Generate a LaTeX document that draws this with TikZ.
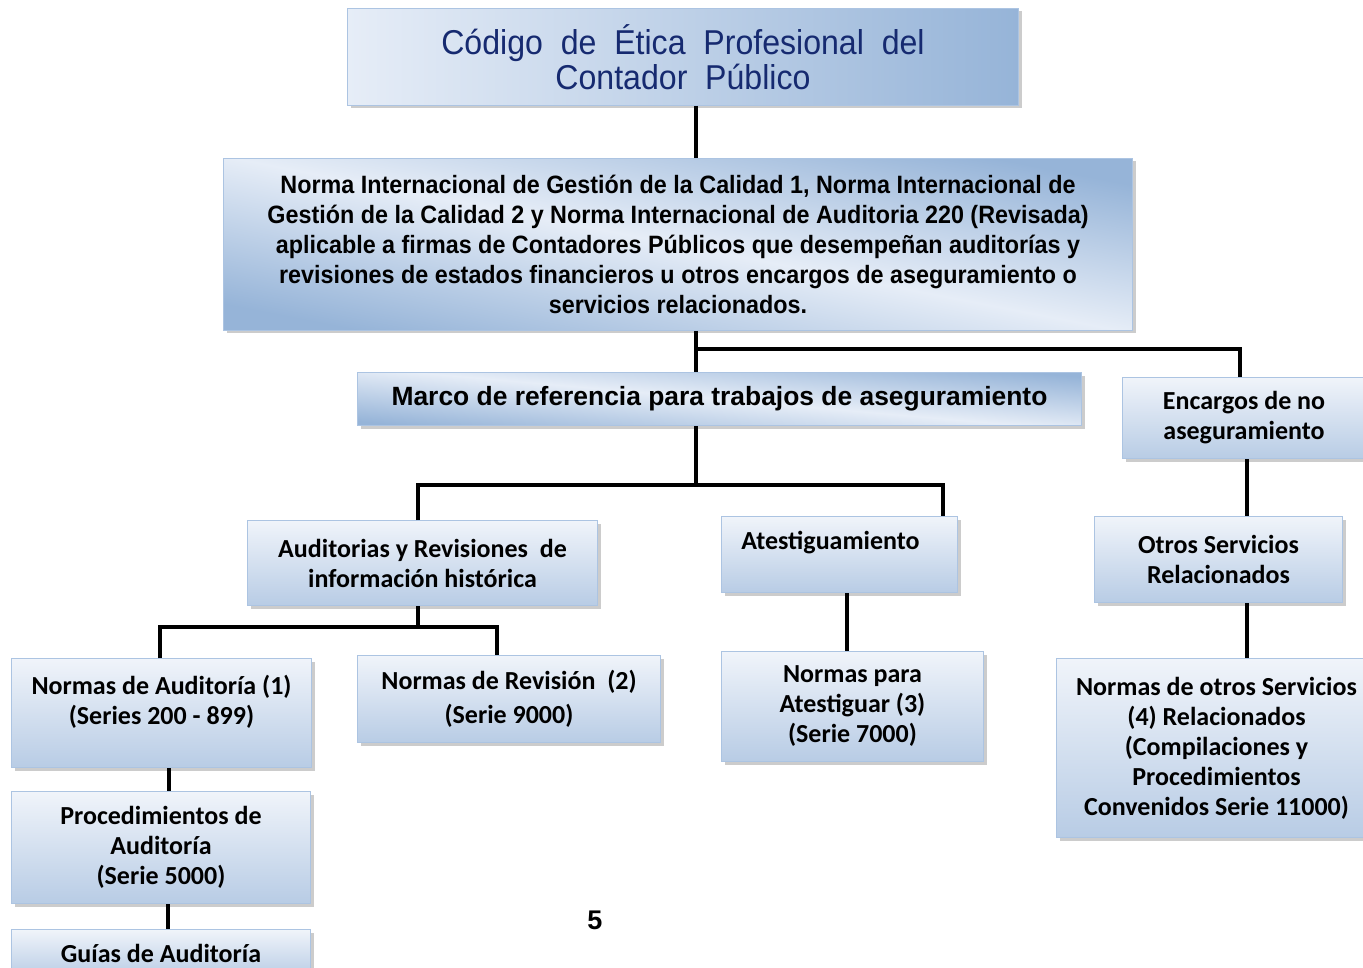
\documentclass[tikz,border=0pt]{standalone}
\usepackage{fontspec}
\setmainfont{Liberation Sans}
\newfontfamily\calibri{Carlito}
\newfontfamily\arialnarrow[FakeStretch=0.93]{Liberation Sans}
\usetikzlibrary{positioning,shadows}

\definecolor{navy}{RGB}{22,42,112}
\definecolor{boxlight}{RGB}{230,237,247}
\definecolor{boxdark}{RGB}{150,180,216}
\definecolor{boxpale}{RGB}{240,244,250}
\definecolor{boxblue}{RGB}{184,204,229}
\definecolor{boxedge}{RGB}{172,196,226}

\begin{document}
\begin{tikzpicture}[x=1pt,y=-1pt,
  shadowed/.style={drop shadow={shadow xshift=3pt,shadow yshift=-3pt,fill=black!40}},
  topbox/.style={shadowed,draw=boxedge,line width=1pt,inner sep=0pt,align=center,anchor=north west,
    top color=boxdark,bottom color=boxdark,middle color=boxlight,shading angle=-11},
  lowbox/.style={shadowed,draw=boxedge,line width=1pt,inner sep=0pt,align=center,anchor=north west,
    top color=boxpale,bottom color=boxblue,font=\calibri\bfseries\fontsize{26}{30}\selectfont},
  link/.style={line width=4.5pt,black}]
  \useasboundingbox (0,0) rectangle (1363,968);
  \clip (0,0) rectangle (1363,968);

  % upper part
  \node[topbox,left color=boxlight,right color=boxdark,minimum width=671pt,minimum height=97pt,
    text=navy,font=\arialnarrow\fontsize{34.5}{35}\selectfont] (title) at (347,8)
    {Código\ \ de\ \ Ética\ \ Profesional\ \ del\\Contador\ \ Público};
  \node[topbox,minimum width=909pt,minimum height=172pt,font=\arialnarrow\bfseries\fontsize{25.1}{30}\selectfont]
    (norma) at (223,158)
    {Norma Internacional de Gestión de la Calidad 1, Norma Internacional de\\
     Gestión de la Calidad 2 y Norma Internacional de Auditoria 220 (Revisada)\\
     aplicable a firmas de Contadores Públicos que desempeñan auditorías y\\
     revisiones de estados financieros u otros encargos de aseguramiento o\\
     servicios relacionados.};
  \node[topbox,shading angle=-5,minimum width=724pt,minimum height=53pt,font=\bfseries\fontsize{26.4}{30}\selectfont]
    (marco) at (357,372) {Marco de referencia para trabajos de aseguramiento};

  % lower boxes
  \node[lowbox,minimum width=243pt,minimum height=81pt] (encargos) at (1122,377)
    {Encargos de no\\aseguramiento};
  \node[lowbox,minimum width=350pt,minimum height=85pt] (aud) at (247,520)
    {Auditorias y Revisiones\ \ de\\información histórica};
  \node[lowbox,align=left,minimum width=236pt,minimum height=76pt,text depth=29pt] (atest) at (721,516)
    {Atestiguamiento\hspace*{18pt}};
  \node[lowbox,minimum width=248pt,minimum height=86pt] (otros) at (1094,516)
    {Otros Servicios\\Relacionados};
  \node[lowbox,minimum width=300pt,minimum height=109pt] (normaud) at (11,658)
    {Normas de Auditoría (1)\\(Series 200 - 899)\\[-4pt]\mbox{}};
  \node[lowbox,minimum width=303pt,minimum height=87pt] (normrev) at (357,655)
    {Normas de Revisión\ \ (2)\\[4pt](Serie 9000)};
  \node[lowbox,minimum width=262pt,minimum height=110pt] (normatest) at (721,651)
    {Normas para\\Atestiguar (3)\\(Serie 7000)};
  \node[lowbox,minimum width=320pt,minimum height=179pt] (normotros) at (1056,658)
    {Normas de otros Servicios\\(4) Relacionados\\(Compilaciones y\\Procedimientos\\Convenidos Serie 11000)};
  \node[lowbox,minimum width=299pt,minimum height=112pt] (proc) at (11,791)
    {Procedimientos de\\Auditoría\\(Serie 5000)};
  \node[lowbox,minimum width=299pt,minimum height=48pt] (guias) at (11,929)
    {Guías de Auditoría};

  \node[font=\bfseries\fontsize{27}{30}\selectfont] (page) at (595,920) {5};

  % connectors
  \coordinate (j1) at (696,349);
  \coordinate (j2) at (696,485);
  \coordinate (j3) at (418,627);
  \draw[link] (title.south -| j1) -- (norma.north -| j1);
  \draw[link] (norma.south -| j1) -- (marco.north -| j1);
  \draw[link] (j1) -| (encargos.north -| 1240,0);
  \draw[link] (marco.south -| j2) -- (j2);
  \draw[link] (aud.north -| j3) |- (j2) -| (atest.north -| 943,0);
  \draw[link] (aud.south -| j3) -- (j3);
  \draw[link] (normaud.north -| 160,0) |- (j3) -| (normrev.north -| 497,0);
  \draw[link] (atest.south -| 847,0) -- (normatest.north -| 847,0);
  \draw[link] (encargos.south -| 1247,0) -- (otros.north -| 1247,0);
  \draw[link] (otros.south -| 1247,0) -- (normotros.north -| 1247,0);
  \draw[link] (normaud.south -| 169,0) -- (proc.north -| 169,0);
  \draw[link] (proc.south -| 168,0) -- (guias.north -| 168,0);
\end{tikzpicture}
\end{document}
